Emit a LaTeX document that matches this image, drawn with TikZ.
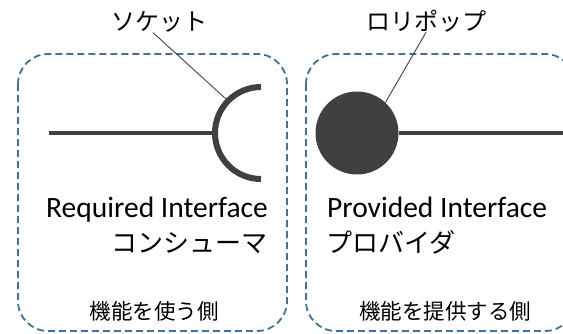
\documentclass[tikz,border=0pt]{standalone}
\usepackage{fontspec}
\setmainfont{Carlito}
\newfontfamily\jpfont{Noto Sans CJK JP}
\definecolor{boxblue}{HTML}{41719C}
\definecolor{ifacegray}{HTML}{404040}
\tikzset{
  groupbox/.style={draw=boxblue, line width=1.8pt, dash pattern=on 7pt off 4pt, rounded corners=30pt},
  iface/.style={draw=ifacegray, line width=4.5pt},
  socketarc/.style={draw=ifacegray, line width=6pt},
  leader/.style={draw=ifacegray, line width=0.9pt},
  toplabel/.style={inner sep=0pt, font=\jpfont\fontsize{24}{28}\selectfont},
  entext/.style={inner sep=0pt, font=\fontsize{29.5}{33}\selectfont},
  jptext/.style={inner sep=0pt, font=\jpfont\fontsize{26}{30}\selectfont},
  sidetext/.style={inner sep=0pt, font=\jpfont\fontsize{21.5}{25}\selectfont}
}
\begin{document}
\begin{tikzpicture}[x=1pt,y=-1pt]
\useasboundingbox (0,0) rectangle (563,333);
\begin{scope}
\clip (0,0) rectangle (563,333);
% group boxes
\draw[groupbox] (18,54) rectangle (287,331);
\draw[groupbox] (306,54) rectangle (575,331);
% required interface (socket)
\coordinate (sockc) at (260,133);
\coordinate (reqstart) at (49,133);
\coordinate (sockleft) at (214,133);
\draw[iface] (reqstart) -- (sockleft);
\draw[socketarc] (261,87) arc[start angle=270, end angle=90, radius=46];
\coordinate (sockpt) at (226,99);
% provided interface (lollipop)
\node[circle, fill=ifacegray, inner sep=0pt, minimum size=83pt] (lolli) at (357,133) {};
\coordinate (provend) at (570,133);
\draw[iface] (lolli.east) -- (provend);
% top labels
\node[toplabel] (socklabel) at (159,22) {ソケット};
\node[toplabel] (lollilabel) at (426,21) {ロリポップ};
\draw[leader] ([xshift=-6pt]socklabel.south) -- (sockpt);
\draw[leader] (lollilabel.south) -- (lolli.47);
% texts
\node[entext, anchor=base east] (reqtext) at (268,217) {Required Interface};
\node[jptext, anchor=base east] (constext) at (268,252) {コンシューマ};
\node[entext, anchor=base west] (provtext) at (327,217) {Provided Interface};
\node[jptext, anchor=base west] (provjp) at (326,252) {プロバイダ};
\node[sidetext, anchor=base] (useside) at (154,319) {機能を使う側};
\node[sidetext, anchor=base] (provside) at (445,319) {機能を提供する側};
\end{scope}
\end{tikzpicture}
\end{document}
